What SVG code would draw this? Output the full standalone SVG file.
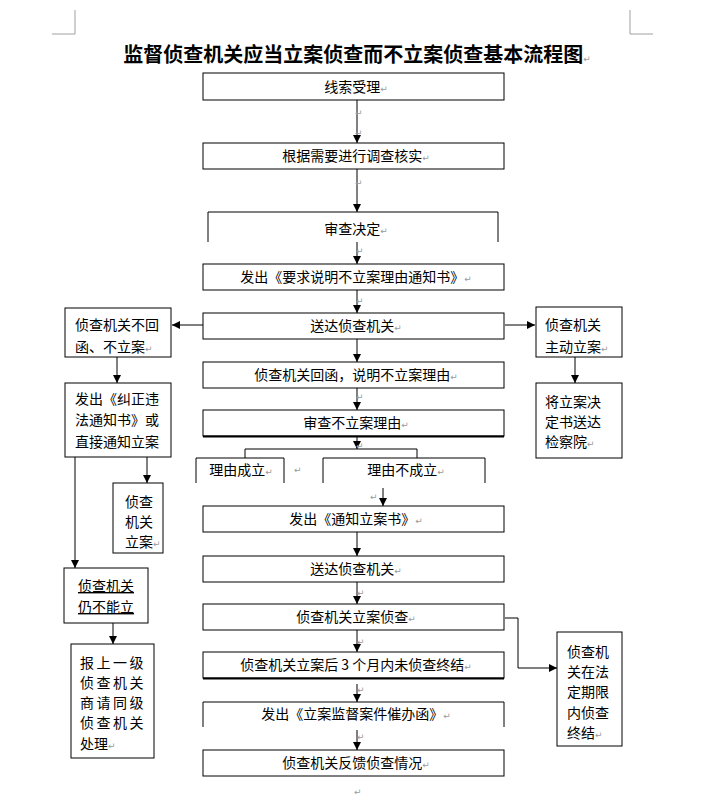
<svg xmlns="http://www.w3.org/2000/svg" width="705" height="800" viewBox="0 0 705 800">
<style>
.b{fill:#fff;stroke:#000;stroke-width:1}
.o{fill:none;stroke:#000;stroke-width:1}
.c{fill:none;stroke:#000;stroke-width:1}
.t{font-family:"Noto Sans CJK SC","Noto Sans",sans-serif;font-size:14px;fill:#000}
.mid{text-anchor:middle}
.m{font-family:"DejaVu Sans",sans-serif;font-size:9px;fill:#9a9a9a}
.ttl{font-family:"Noto Sans CJK SC","Noto Sans",sans-serif;font-size:20px;font-weight:bold;fill:#000;text-anchor:middle}
.corner{fill:none;stroke:#a0a0a0;stroke-width:1}
</style>
<defs>
<marker id="ah" markerWidth="8" markerHeight="8" refX="8" refY="4" orient="auto" markerUnits="userSpaceOnUse">
<path d="M0,0 L8,4 L0,8 z" fill="#000"/>
</marker>
</defs>
<rect width="705" height="800" fill="#fff"/>
<path class="corner" d="M75,10 V34 H52"/>
<path class="corner" d="M630,10 V34 H653"/>
<text class="ttl" x="357" y="62">监督侦查机关应当立案侦查而不立案侦查基本流程图<tspan class="m" font-weight="normal">↵</tspan></text>

<g id="connectors">
<line class="c" x1="357" y1="100" x2="357" y2="143" marker-end="url(#ah)"/>
<line class="c" x1="357" y1="169" x2="357" y2="212" marker-end="url(#ah)"/>
<line class="c" x1="357" y1="242" x2="357" y2="264" marker-end="url(#ah)"/>
<line class="c" x1="357" y1="290" x2="357" y2="313" marker-end="url(#ah)"/>
<line class="c" x1="357" y1="339" x2="357" y2="362" marker-end="url(#ah)"/>
<line class="c" x1="357" y1="388" x2="357" y2="410" marker-end="url(#ah)"/>
<line class="c" x1="357" y1="437" x2="357" y2="449" marker-end="url(#ah)"/>
<path class="c" d="M245,458 V449 H417 V458"/>
<line class="c" x1="383" y1="488" x2="383" y2="506" marker-end="url(#ah)"/>
<line class="c" x1="357" y1="532" x2="357" y2="556" marker-end="url(#ah)"/>
<line class="c" x1="357" y1="582" x2="357" y2="604" marker-end="url(#ah)"/>
<line class="c" x1="357" y1="630" x2="357" y2="652" marker-end="url(#ah)"/>
<line class="c" x1="357" y1="684" x2="357" y2="702" marker-end="url(#ah)"/>
<line class="c" x1="357" y1="730" x2="357" y2="750" marker-end="url(#ah)"/>
<line class="c" x1="203" y1="325" x2="172" y2="325" marker-end="url(#ah)"/>
<line class="c" x1="505" y1="325" x2="535" y2="325" marker-end="url(#ah)"/>
<line class="c" x1="117" y1="357" x2="117" y2="383" marker-end="url(#ah)"/>
<line class="c" x1="147" y1="457" x2="147" y2="483" marker-end="url(#ah)"/>
<line class="c" x1="75" y1="457" x2="75" y2="568" marker-end="url(#ah)"/>
<line class="c" x1="113" y1="623" x2="113" y2="644" marker-end="url(#ah)"/>
<line class="c" x1="575" y1="357" x2="575" y2="383" marker-end="url(#ah)"/>
<path class="c" d="M505,618 H518 V668 H557" marker-end="url(#ah)"/>
</g>

<g id="n1"><rect class="b" x="203" y="73" width="301" height="27"/><text class="t mid" x="356" y="91.5">线索受理<tspan class="m">↵</tspan></text></g>
<g id="n2"><rect class="b" x="203" y="143" width="301" height="26"/><text class="t mid" x="356" y="161">根据需要进行调查核实<tspan class="m">↵</tspan></text></g>
<g id="n3"><path class="o" d="M208,242 V212 H498 V242"/><text class="t mid" x="356" y="234">审查决定<tspan class="m">↵</tspan></text></g>
<g id="n4"><rect class="b" x="203" y="264" width="301" height="26"/><text class="t mid" x="356" y="282">发出《要求说明不立案理由通知书》<tspan class="m">↵</tspan></text></g>
<g id="n5"><rect class="b" x="203" y="313" width="301" height="26"/><text class="t mid" x="356" y="331">送达侦查机关<tspan class="m">↵</tspan></text></g>
<g id="n6"><rect class="b" x="203" y="362" width="301" height="26"/><text class="t mid" x="356" y="380">侦查机关回函，说明不立案理由<tspan class="m">↵</tspan></text></g>
<g id="n7"><rect class="b" x="203" y="410" width="301" height="26"/><line x1="203" y1="436.5" x2="504" y2="436.5" stroke="#000" stroke-width="2"/><text class="t mid" x="356" y="428">审查不立案理由<tspan class="m">↵</tspan></text></g>
<g id="n8a"><path class="o" d="M196,483 V458 H284 V483"/><text class="t mid" x="241" y="475">理由成立<tspan class="m">↵</tspan></text></g>
<g id="n8b"><path class="o" d="M323,483 V458 H485 V483"/><text class="t mid" x="406" y="475">理由不成立<tspan class="m">↵</tspan></text></g>
<g id="n9"><rect class="b" x="203" y="506" width="301" height="26"/><text class="t mid" x="356" y="524">发出《通知立案书》<tspan class="m">↵</tspan></text></g>
<g id="n10"><rect class="b" x="203" y="556" width="301" height="26"/><text class="t mid" x="356" y="574">送达侦查机关<tspan class="m">↵</tspan></text></g>
<g id="n11"><rect class="b" x="203" y="604" width="301" height="26"/><text class="t mid" x="356" y="622">侦查机关立案侦查<tspan class="m">↵</tspan></text></g>
<g id="n12"><rect class="b" x="203" y="652" width="301" height="26"/><line x1="203" y1="678.5" x2="504" y2="678.5" stroke="#000" stroke-width="2"/><text class="t mid" x="356" y="670">侦查机关立案后 3 个月内未侦查终结<tspan class="m">↵</tspan></text></g>
<g id="n13"><path class="o" d="M203,727 V702 H504 V727"/><text class="t mid" x="356" y="719">发出《立案监督案件催办函》<tspan class="m">↵</tspan></text></g>
<g id="n14"><rect class="b" x="203" y="750" width="301" height="26"/><text class="t mid" x="356" y="768">侦查机关反馈侦查情况<tspan class="m">↵</tspan></text></g>

<g id="l1"><rect class="b" x="65" y="308" width="106" height="49"/><text class="t" x="75" y="330">侦查机关不回</text><text class="t" x="75" y="352">函、不立案<tspan class="m">↵</tspan></text></g>
<g id="l2"><rect class="b" x="65" y="383" width="106" height="74"/><text class="t" x="75" y="404">发出《纠正违</text><text class="t" x="75" y="425">法通知书》或</text><text class="t" x="75" y="447">直接通知立案</text></g>
<g id="l3"><rect class="b" x="113" y="483" width="50" height="70"/><text class="t" x="125" y="507">侦查</text><text class="t" x="125" y="527">机关</text><text class="t" x="125" y="547">立案<tspan class="m">↵</tspan></text></g>
<g id="l4"><rect class="b" x="64" y="568" width="84" height="55"/><text class="t" x="78" y="591" text-decoration="underline">侦查机关</text><text class="t" x="78" y="612" text-decoration="underline">仍不能立</text></g>
<g id="l5"><rect class="b" x="71" y="644" width="83" height="114"/><text class="t" x="80" y="668" letter-spacing="2.5">报上一级</text><text class="t" x="80" y="688" letter-spacing="2.5">侦查机关</text><text class="t" x="80" y="708" letter-spacing="2.5">商请同级</text><text class="t" x="80" y="728" letter-spacing="2.5">侦查机关</text><text class="t" x="80" y="749">处理<tspan class="m">↵</tspan></text></g>

<g id="r1"><rect class="b" x="536" y="307" width="86" height="50"/><text class="t" x="545" y="330">侦查机关</text><text class="t" x="545" y="352">主动立案<tspan class="m">↵</tspan></text></g>
<g id="r2"><rect class="b" x="536" y="383" width="86" height="75"/><text class="t" x="545" y="407">将立案决</text><text class="t" x="545" y="427">定书送达</text><text class="t" x="545" y="447">检察院<tspan class="m">↵</tspan></text></g>
<g id="r3"><rect class="b" x="557" y="632" width="65" height="114"/><text class="t" x="567" y="657" font-size="15">侦查机</text><text class="t" x="567" y="677" font-size="15">关在法</text><text class="t" x="567" y="697" font-size="15">定期限</text><text class="t" x="567" y="718" font-size="15">内侦查</text><text class="t" x="567" y="738" font-size="15">终结<tspan class="m">↵</tspan></text></g>

<g id="marks">
<text class="m" x="355" y="116">↵</text>
<text class="m" x="355" y="136">↵</text>
<text class="m" x="355" y="186">↵</text>
<text class="m" x="356" y="254">↵</text>
<text class="m" x="356" y="304">↵</text>
<text class="m" x="356" y="400">↵</text>
<text class="m" x="356" y="449">↵</text>
<text class="m" x="294" y="473">↵</text>
<text class="m" x="370" y="500">↵</text>
<text class="m" x="357" y="596">↵</text>
<text class="m" x="357" y="645">↵</text>
<text class="m" x="357" y="693">↵</text>
<text class="m" x="357" y="740">↵</text>
<text class="m" x="354" y="795">↵</text>
</g>
</svg>
